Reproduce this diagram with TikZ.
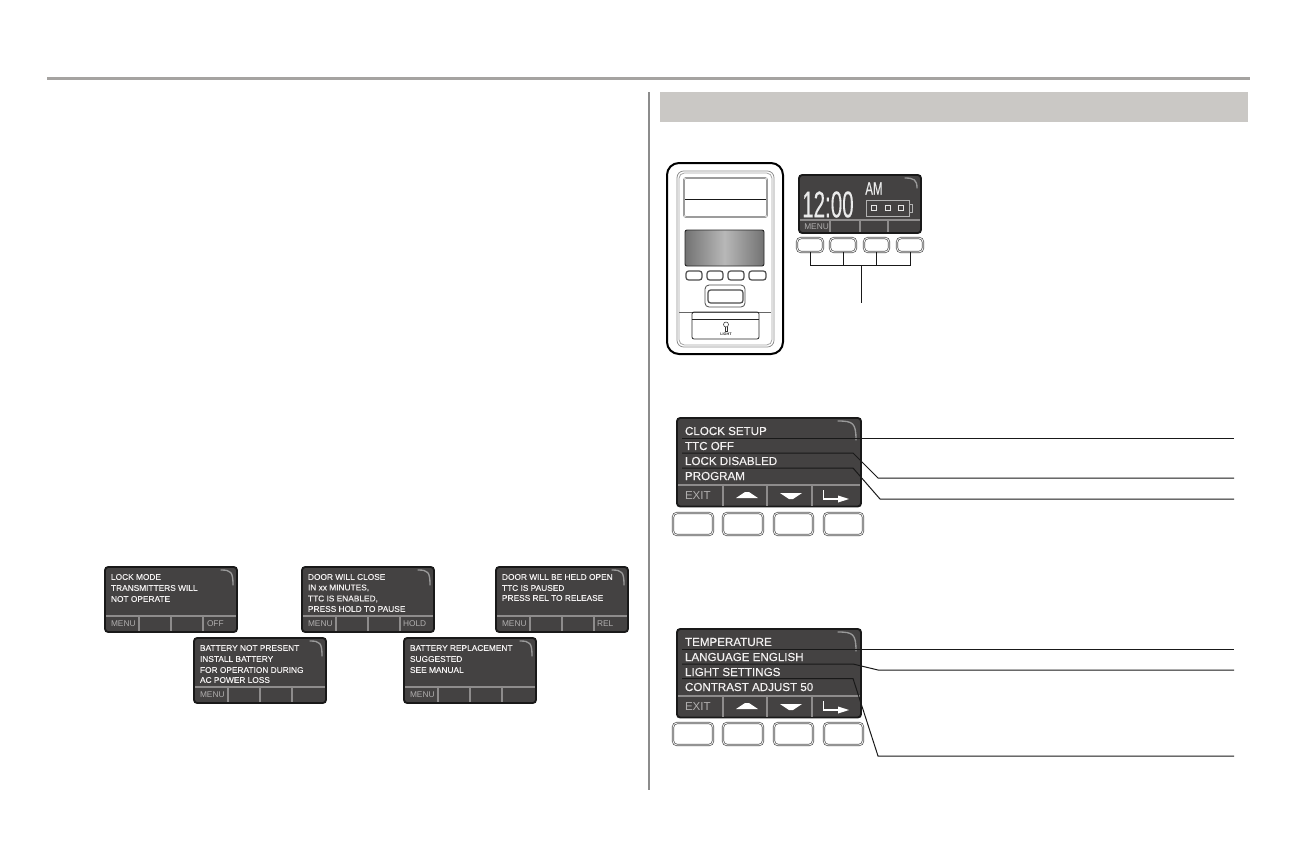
\documentclass[tikz,border=0pt]{standalone}
\usepackage{fontspec}
\setmainfont{Liberation Sans}
\newfontfamily\glowfont[FakeBold=0.25]{Liberation Sans}
\definecolor{scrbg}{HTML}{444242}
\definecolor{scrtxt}{HTML}{F2F0F0}
\definecolor{soft}{HTML}{B0AEAE}
\definecolor{barline}{HTML}{8E8C8C}
\definecolor{rulegray}{HTML}{A5A3A1}
\definecolor{band}{HTML}{CAC8C5}
\tikzset{
  x=0.75pt,y=-0.75pt,
  box/.style={rectangle,inner sep=0pt,outer sep=0pt},
  screen/.style={box,draw=black!90,fill=scrbg,line width=1.4pt,rounded corners=2.4pt},
  softkey/.style={box,draw=black!65,double=white,double distance=0.6pt,line width=0.55pt,rounded corners=3pt},
  smalltxt/.style={anchor=west,inner sep=0pt,outer sep=0pt,text=scrtxt,font=\glowfont\fontsize{6.25}{7}\selectfont},
  smallsoft/.style={anchor=west,inner sep=0pt,outer sep=0pt,text=soft,font=\fontsize{6.25}{7}\selectfont},
  bigtxt/.style={anchor=west,inner sep=0pt,outer sep=0pt,text=scrtxt,font=\glowfont\fontsize{8.7}{10}\selectfont},
  bigsoft/.style={anchor=west,inner sep=0pt,outer sep=0pt,text=soft,font=\fontsize{8.7}{10}\selectfont},
  divider/.style={barline,line width=1.1pt},
  leader/.style={black!90,line width=0.75pt},
  glint/.style={black!40,line width=1pt,line cap=round},
  outline/.style={box,draw=black!70,line width=0.6pt,rounded corners=1.5pt},
}
% name, style, x1,y1,x2,y2
\newcommand{\bx}[6]{\node[#2,minimum width={(#5-#3)*0.75pt},minimum height={(#6-#4)*0.75pt}] (#1) at ({(#3+#5)/2},{(#4+#6)/2}) {};}
% small screen: id,x,y
\newcommand{\smscr}[3]{%
  \bx{#1}{screen}{#2}{#3}{#2+132}{#3+65}
  \draw[glint] ({#2+116},{#3+3}) .. controls ({#2+126},{#3+3}) and ({#2+128},{#3+5}) .. ({#2+128},{#3+18});
  \draw[divider] ({#2+1},{#3+49}) -- ({#2+131},{#3+49});
  \draw[divider] ({#2+34},{#3+49}) -- ({#2+34},{#3+64});
  \draw[divider] ({#2+66},{#3+49}) -- ({#2+66},{#3+64});
  \draw[divider] ({#2+98},{#3+49}) -- ({#2+98},{#3+64});
}
% big screen: id,y
\newcommand{\bigscr}[2]{%
  \bx{#1}{screen}{677}{#2}{861}{#2+88.5}
  \draw[glint] (838,{#2+3}) .. controls (853,{#2+3}) and (856,{#2+5}) .. (856,{#2+22});
  \draw[divider] (678,{#2+67}) -- (860,{#2+67});
  \draw[divider] (723,{#2+67}) -- (723,{#2+88});
  \draw[divider] (767,{#2+67}) -- (767,{#2+88});
  \draw[divider] (812,{#2+67}) -- (812,{#2+88});
  \node[bigsoft] (#1exit) at (685,{#2+78}) {EXIT};
  \fill[white] (736,{#2+80}) -- (758,{#2+80}) -- (749,{#2+74}) -- (745,{#2+74}) -- cycle;
  \fill[white] (780,{#2+75}) -- (802,{#2+75}) -- (793,{#2+81}) -- (789,{#2+81}) -- cycle;
  \draw[white,line width=1.1pt] (823.5,{#2+72}) -- (823.5,{#2+81}) -- (840,{#2+81});
  \fill[white] (838,{#2+77.5}) -- (849,{#2+81}) -- (838,{#2+84.5}) -- cycle;
}
% buttons under big screen: id,y1,y2
\newcommand{\keys}[3]{%
  \bx{#1a}{softkey}{673}{#2}{713}{#3}
  \bx{#1b}{softkey}{723}{#2}{763}{#3}
  \bx{#1c}{softkey}{774}{#2}{813}{#3}
  \bx{#1d}{softkey}{824}{#2}{863}{#3}
}
\begin{document}
\begin{tikzpicture}
\fill[white] (0,0) rectangle (1296,864);
\useasboundingbox (0,0) rectangle (1296,864);

% page furniture
\coordinate (ruleL) at (47,78.5); \coordinate (ruleR) at (1250,78.5);
\draw[rulegray,line width=2.2pt] (ruleL) -- (ruleR);
\coordinate (colT) at (649,92); \coordinate (colB) at (649,790);
\draw[black!45,line width=1.4pt] (colT) -- (colB);
\fill[band] (660,92) rectangle (1248,122);

% small screens
\smscr{sa}{105}{567}
\node[smalltxt] (sa1) at (111,577) {LOCK MODE};
\node[smalltxt] (sa2) at (111,588) {TRANSMITTERS WILL};
\node[smalltxt] (sa3) at (111,599) {NOT OPERATE};
\node[smallsoft] (sam) at (111,623.5) {MENU};
\node[smallsoft] (sak) at (207,623.5) {OFF};

\smscr{sb}{302}{567}
\node[smalltxt] (sb1) at (308,577) {DOOR WILL CLOSE};
\node[smalltxt] (sb2) at (308,588) {IN xx MINUTES,};
\node[smalltxt] (sb3) at (308,599) {TTC IS ENABLED,};
\node[smalltxt] (sb4) at (308,609) {PRESS HOLD TO PAUSE};
\node[smallsoft] (sbm) at (308,623.5) {MENU};
\node[smallsoft] (sbk) at (403,623.5) {HOLD};

\smscr{sc}{496}{567}
\node[smalltxt] (sc1) at (502,577) {DOOR WILL BE HELD OPEN};
\node[smalltxt] (sc2) at (502,588) {TTC IS PAUSED};
\node[smalltxt] (sc3) at (502,598) {PRESS REL TO RELEASE};
\node[smallsoft] (scm) at (502,623.5) {MENU};
\node[smallsoft] (sck) at (597,623.5) {REL};

\smscr{sd}{194}{638}
\node[smalltxt] (sd1) at (200,648) {BATTERY NOT PRESENT};
\node[smalltxt] (sd2) at (200,659) {INSTALL BATTERY};
\node[smalltxt] (sd3) at (200,670) {FOR OPERATION DURING};
\node[smalltxt] (sd4) at (200,680) {AC POWER LOSS};
\node[smallsoft] (sdm) at (200,694.5) {MENU};

\smscr{se}{404}{638}
\node[smalltxt] (se1) at (410,648) {BATTERY REPLACEMENT};
\node[smalltxt] (se2) at (410,659) {SUGGESTED};
\node[smalltxt] (se3) at (410,670) {SEE MANUAL};
\node[smallsoft] (sem) at (410,694.5) {MENU};

% wall console
\bx{con}{box,draw=black,fill=white,line width=1.5pt,rounded corners=9pt}{667}{163}{783}{354}
\bx{coni}{outline,draw=black!45,rounded corners=5pt}{677}{171}{774}{347}
\bx{conin}{outline,draw=black!35,rounded corners=4pt}{679}{173}{772}{345}
\bx{panel}{outline,draw=black!60,double=white,double distance=0.5pt,line width=0.35pt}{684}{178}{767}{217}
\coordinate (panelL) at (685,199.5); \coordinate (panelR) at (766,199.5);
\draw[black!90,line width=0.7pt] (panelL) -- (panelR);
\node[box,draw=black!85,line width=0.7pt,rounded corners=1.5pt,left color=black!55,right color=black!55,middle color=black!28,minimum width={79*0.75pt},minimum height={36*0.75pt}] (conscr) at (724.5,248) {};
\bx{k1}{outline,line width=0.9pt,rounded corners=2pt}{686}{271}{702}{280}
\bx{k2}{outline,line width=0.9pt,rounded corners=2pt}{707}{271}{723}{280}
\bx{k3}{outline,line width=0.9pt,rounded corners=2pt}{728}{271}{744}{280}
\bx{k4}{outline,line width=0.9pt,rounded corners=2pt}{749}{271}{766}{280}
\bx{cb}{outline,rounded corners=3pt}{705}{285}{745}{307}
\bx{cbi}{outline,rounded corners=2pt,line width=0.9pt}{708}{290}{743}{303}
\coordinate (sillL) at (679,312); \coordinate (sillR) at (771,312);
\draw[black!60,line width=0.5pt] (sillL) -- (sillR);
\bx{lightb}{outline,draw=black!85}{692}{312}{759}{339}
\coordinate (lbL) at (692,319); \coordinate (lbR) at (759,319);
\draw[black!85,line width=0.7pt] (lbL) -- (lbR);
\node[circle,draw=black!80,line width=0.4pt,inner sep=0pt,minimum size={5*0.75pt}] (bulb) at (726,324.5) {};
\draw[black!80,line width=0.5pt] (725,327) -- (725,331) -- (727,331) -- (727,327);
\node[inner sep=0pt,font=\fontsize{2.8}{3}\selectfont\bfseries,text=black!85] (lighttxt) at (726,334) {LIGHT};

% enlarged display
\bx{disp}{screen}{799}{175}{921}{233}
\draw[glint] (905,178) .. controls (914,178) and (917,180) .. (917,188);
\draw[divider] (800,220) -- (920,220);
\draw[divider] (830,220) -- (830,232);
\draw[divider] (860,220) -- (860,232);
\draw[divider] (888,220) -- (888,232);
\node[inner sep=0pt,anchor=west,text=black!8,font=\glowfont\fontsize{28}{30}\selectfont] (clock) at (802,204.5) {\scalebox{.55}[1]{12:00}};
\node[inner sep=0pt,anchor=west,text=black!8,font=\glowfont\fontsize{13.6}{15}\selectfont] (am) at (865,188.5) {\scalebox{.64}[1]{AM}};
\node[inner sep=0pt,anchor=west,text=soft,font=\fontsize{6.25}{7}\selectfont] (menu) at (804,227) {MENU};
\bx{batt}{box,draw=black!30,line width=0.6pt}{866}{200}{909}{216}
\bx{battn}{box,draw=black!30,fill=scrbg,line width=0.6pt}{909}{204}{912}{212}
\bx{bc1}{box,draw=black!10,line width=0.6pt}{871}{205}{876}{210}
\bx{bc2}{box,draw=black!10,line width=0.6pt}{885}{205}{890}{210}
\bx{bc3}{box,draw=black!10,line width=0.6pt}{898}{205}{903}{210}

\bx{b1}{softkey}{797}{238}{823}{252}
\bx{b2}{softkey}{830}{238}{856}{252}
\bx{b3}{softkey}{864}{238}{889}{252}
\bx{b4}{softkey}{897}{238}{923}{252}
\coordinate (bus) at (861,265);
\coordinate (stem) at (861,303);
\draw[leader] (b1.south) |- (bus);
\draw[leader] (b4.south) |- (bus);
\draw[leader] (b2.south) -- (b2.south |- bus);
\draw[leader] (b3.south) -- (b3.south |- bus);
\draw[leader] (bus) -- (stem);

% first menu
\bigscr{ma}{418}
\node[bigtxt] (ma1) at (685,431) {CLOCK SETUP};
\node[bigtxt] (ma2) at (685,446) {TTC OFF};
\node[bigtxt] (ma3) at (685,461) {LOCK DISABLED};
\node[bigtxt] (ma4) at (685,476) {PROGRAM};
\keys{mk}{513}{535}
\coordinate (a1s) at (682,438.5); \coordinate (a1e) at (1234,438.5);
\coordinate (a2s) at (682,453); \coordinate (a2b) at (853,453); \coordinate (a2c) at (878,478); \coordinate (a2e) at (1234,478);
\coordinate (a3s) at (682,468); \coordinate (a3b) at (853,468); \coordinate (a3c) at (880,499); \coordinate (a3e) at (1234,499);
\draw[leader] (a1s) -- (a1e);
\draw[leader] (a2s) -- (a2b) -- (a2c) -- (a2e);
\draw[leader] (a3s) -- (a3b) -- (a3c) -- (a3e);

% second menu
\bigscr{mb}{629}
\node[bigtxt] (mb1) at (685,642) {TEMPERATURE};
\node[bigtxt] (mb2) at (685,657) {LANGUAGE ENGLISH};
\node[bigtxt] (mb3) at (685,672) {LIGHT SETTINGS};
\node[bigtxt] (mb4) at (685,687) {CONTRAST ADJUST 50};
\keys{nk}{723}{745}
\coordinate (b1s) at (682,649); \coordinate (b1e) at (1234,649);
\coordinate (b2s) at (682,664); \coordinate (b2b) at (853,664); \coordinate (b2c) at (878,670); \coordinate (b2e) at (1234,670);
\coordinate (b3s) at (682,678.5); \coordinate (b3b) at (853,678.5); \coordinate (b3c) at (878,756); \coordinate (b3e) at (1234,756);
\draw[leader] (b1s) -- (b1e);
\draw[leader] (b2s) -- (b2b) -- (b2c) -- (b2e);
\draw[leader] (b3s) -- (b3b) -- (b3c) -- (b3e);
\end{tikzpicture}
\end{document}
